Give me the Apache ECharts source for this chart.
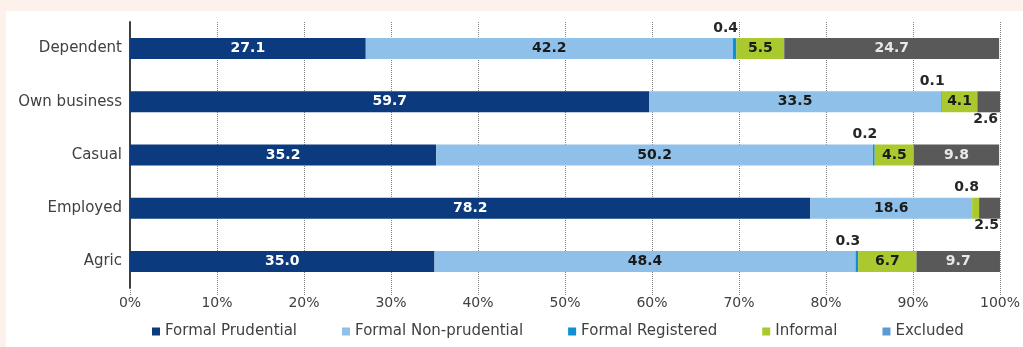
<!DOCTYPE html>
<html>
<head>
<meta charset="utf-8">
<script src="https://cdn.jsdelivr.net/npm/echarts@6/dist/echarts.min.js"></script>
<style>
  html, body { margin: 0; padding: 0; background: #fdf1ec; }
  #main { position: absolute; left: 6px; top: 11px; width: 1017px; height: 336px; background: #ffffff; }
</style>
</head>
<body>
<div id="main"></div>
<script>
// categories, top to bottom
let categories = ["Dependent", "Own business", "Casual", "Employed", "Agric"];

// shares (%) per group, same order as categories
let formalPrudential = [27.1, 59.7, 35.2, 78.2, 35.0];
let formalNonPrudential = [42.2, 33.5, 50.2, 18.6, 48.4];
let formalRegistered = [0.4, 0.1, 0.2, 0, 0.3];
let informal = [5.5, 4.1, 4.5, 0.8, 6.7];
let excluded = [24.7, 2.6, 9.8, 2.5, 9.7];

let xTicks = [0, 10, 20, 30, 40, 50, 60, 70, 80, 90, 100];

let dom = document.getElementById("main");
let myChart = echarts.init(dom, null, { renderer: "canvas" });

let font = "DejaVu Sans";

// small slices get their label outside the bar
function makeData(values) {
    return values.map(function (v) {
        if (v === 0) {
            return { value: v, label: { show: false } };
        }
        if (v < 1) {
            return { value: v, label: { position: "top", distance: 3, color: "#262626", offset: [-9, 0] } };
        }
        if (v < 3) {
            return { value: v, label: { position: "bottom", distance: 0, color: "#262626", offset: [-3, 0] } };
        }
        return v;
    });
}

function makeSeries(name, values, color, textColor) {
    return {
        name: name,
        type: "bar",
        stack: "total",
        barWidth: 21,
        data: makeData(values),
        itemStyle: { color: color },
        label: {
            show: true,
            position: "inside",
            color: textColor,
            fontFamily: font,
            fontWeight: "bold",
            fontSize: 14,
            formatter: function (p) {
                return p.value.toFixed(1);
            },
        },
    };
}

let option = {
    animation: false,
    grid: { left: 124, right: 21, top: 11, bottom: 59 },
    legend: {
        left: 141,
        bottom: 3,
        itemWidth: 8,
        itemHeight: 8,
        itemGap: 45,
        textStyle: { fontFamily: font, fontSize: 15, color: "#404040" },
        data: [
            { name: "Formal Prudential", icon: "rect" },
            { name: "Formal Non-prudential", icon: "rect" },
            { name: "Formal Registered", icon: "rect" },
            { name: "Informal", icon: "rect" },
            { name: "Excluded", icon: "rect", itemStyle: { color: "#5b9bd5" } },
        ],
    },
    xAxis: {
        type: "value",
        min: 0,
        max: 100,
        interval: 10,
        axisLine: { show: false },
        axisTick: { show: true, length: 8, lineStyle: { color: "#7f7f7f", type: "dotted" } },
        splitLine: { show: true, lineStyle: { color: "#7f7f7f", type: "dotted", width: 1 } },
        axisLabel: {
            fontFamily: font,
            fontSize: 14,
            color: "#404040",
            margin: 8,
            formatter: function (v) {
                return xTicks.indexOf(v) >= 0 ? v + "%" : "";
            },
        },
    },
    yAxis: {
        type: "category",
        inverse: true,
        data: categories,
        axisLine: { show: true, lineStyle: { color: "#404040", width: 2 } },
        axisTick: { show: false },
        axisLabel: { fontFamily: font, fontSize: 15, color: "#404040", margin: 8 },
    },
    series: [
        makeSeries("Formal Prudential", formalPrudential, "#0b3a7e", "#ffffff"),
        makeSeries("Formal Non-prudential", formalNonPrudential, "#8fc0e9", "#1a1a1a"),
        makeSeries("Formal Registered", formalRegistered, "#0e8fd6", "#262626"),
        makeSeries("Informal", informal, "#a9c92f", "#1a1a1a"),
        makeSeries("Excluded", excluded, "#595959", "#e8e8e8"),
    ],
};

myChart.setOption(option);

window.addEventListener("resize", myChart.resize);
</script>
</body>
</html>
